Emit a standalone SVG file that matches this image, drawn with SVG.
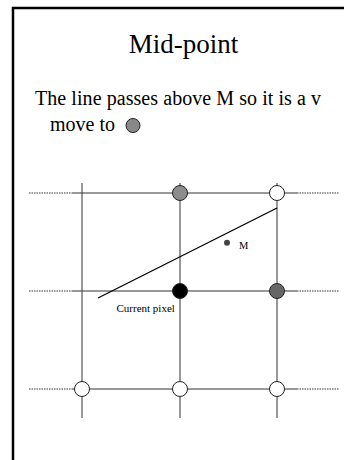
<svg xmlns="http://www.w3.org/2000/svg" width="344" height="460" viewBox="0 0 344 460">
<style>
.t{font-family:"Liberation Serif","Times New Roman",serif;fill:#000}
.g{stroke:#333;stroke-width:1;fill:none}
.d{stroke:#333;stroke-width:1;stroke-dasharray:1.5 1;fill:none}
.px{stroke:#222;stroke-width:1}
</style>
<rect width="344" height="460" fill="#fff"/>
<g id="frame">
<path d="M13 460 V8 H344" fill="none" stroke="#000" stroke-width="2.5"/>
</g>
<text class="t" x="183.5" y="53" font-size="27" text-anchor="middle">Mid-point</text>
<text class="t" x="35" y="105" font-size="20" textLength="286">The line passes above M so it is a v</text>
<text class="t" x="50" y="131" font-size="20">move to</text>
<circle cx="133" cy="125.5" r="7" fill="#888" class="px"/>
<g id="connectors">
<line class="g" x1="82" y1="183" x2="82" y2="418"/>
<line class="g" x1="180" y1="183" x2="180" y2="418"/>
<line class="g" x1="277" y1="183" x2="277" y2="418"/>
<line class="g" x1="72" y1="193" x2="297" y2="193"/>
<line class="g" x1="72" y1="291" x2="297" y2="291"/>
<line class="g" x1="72" y1="389" x2="297" y2="389"/>
<line class="d" x1="29" y1="193" x2="72" y2="193"/>
<line class="d" x1="29" y1="291" x2="72" y2="291"/>
<line class="d" x1="29" y1="389" x2="72" y2="389"/>
<line class="d" x1="297" y1="193" x2="339" y2="193"/>
<line class="d" x1="297" y1="291" x2="339" y2="291"/>
<line class="d" x1="297" y1="389" x2="339" y2="389"/>
<line x1="98" y1="298" x2="277" y2="208" stroke="#000" stroke-width="1.3"/>
</g>
<g id="p-top-mid"><circle cx="180" cy="193" r="7.5" fill="#8c8c8c" class="px"/></g>
<g id="p-top-right"><circle cx="277" cy="193" r="7.5" fill="#fff" class="px"/></g>
<g id="p-current"><circle cx="180" cy="291" r="7.5" fill="#000" class="px"/></g>
<g id="p-mid-right"><circle cx="277" cy="291" r="7.5" fill="#666" class="px"/></g>
<g id="p-bot-left"><circle cx="82" cy="389" r="7.5" fill="#fff" class="px"/></g>
<g id="p-bot-mid"><circle cx="180" cy="389" r="7.5" fill="#fff" class="px"/></g>
<g id="p-bot-right"><circle cx="277" cy="389" r="7.5" fill="#fff" class="px"/></g>
<g id="midpoint">
<circle cx="227" cy="242.7" r="3" fill="#444"/>
<text class="t" x="239" y="249" font-size="10.5">M</text>
</g>
<text class="t" x="116.5" y="311.7" font-size="11">Current pixel</text>
</svg>
